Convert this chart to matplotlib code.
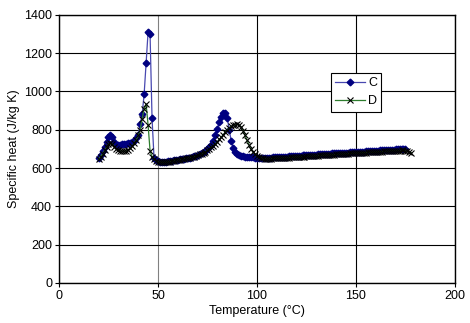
import numpy as np
import matplotlib.pyplot as plt

plt.rcParams['font.family'] = ['Liberation Sans', 'DejaVu Sans']

# temperature (°C) and specific heat (J/kg K)
temp_c = list(range(20, 176))
cp_c = [650, 668, 690, 712, 738, 760, 772, 760, 735, 722,
        720, 722, 725, 728, 728, 730, 732, 735, 742, 755,
        770, 830, 880, 985, 1150, 1310, 1300, 860, 655, 642,
        636, 633, 632, 632, 633, 635, 636, 638, 640, 641,
        643, 645, 647, 649, 651, 653, 655, 658, 661, 664,
        668, 672, 677, 683, 690, 698, 708, 722, 742, 770,
        805, 840, 868, 885, 888, 860, 800, 740, 705, 685,
        672, 666, 663, 661, 660, 659, 658, 657, 656, 655,
        654, 652, 652, 653, 653, 654, 655, 655, 656, 656,
        657, 658, 658, 659, 660, 660, 661, 662, 662, 663,
        664, 664, 665, 666, 666, 667, 668, 668, 669, 670,
        670, 671, 672, 672, 673, 674, 674, 675, 676, 676,
        677, 678, 678, 679, 680, 680, 681, 682, 682, 683,
        684, 684, 685, 686, 686, 687, 688, 688, 689, 690,
        690, 691, 692, 692, 693, 694, 694, 695, 696, 696,
        697, 698, 698, 699, 700, 700]

temp_d = list(range(20, 179))
cp_d = [645, 660, 675, 692, 710, 725, 732, 725, 712, 700,
        693, 690, 688, 688, 690, 695, 703, 715, 730, 748,
        770, 800, 855, 910, 935, 825, 690, 660, 645, 637,
        633, 631, 630, 630, 631, 632, 634, 636, 638, 640,
        642, 644, 646, 648, 650, 652, 654, 657, 660, 663,
        667, 671, 675, 680, 686, 693, 700, 708, 717, 727,
        738, 750, 762, 775, 788, 800, 810, 818, 823, 826,
        828, 826, 815, 795, 770, 745, 720, 700, 685, 672,
        663, 657, 653, 650, 648, 648, 649, 649, 650, 650,
        651, 652, 652, 653, 654, 654, 655, 656, 656, 657,
        658, 658, 659, 660, 660, 661, 662, 662, 663, 664,
        664, 665, 666, 666, 667, 668, 668, 669, 670, 670,
        671, 672, 672, 673, 674, 674, 675, 676, 676, 677,
        678, 678, 679, 680, 680, 681, 682, 682, 683, 684,
        684, 685, 686, 686, 687, 688, 688, 689, 690, 690,
        690, 691, 691, 692, 692, 690, 687, 684, 680]

fig = plt.figure(figsize=(4.7, 3.23), dpi=100)
ax = fig.add_axes([0.1255, 0.124, 0.8425, 0.83])

ax.plot(temp_c, cp_c, '-D', color='#4848b0', lw=0.9, ms=3.4,
        mfc='#000080', mec='#000080', label='C')
ax.plot(temp_d, cp_d, '-x', color='#2e7d2e', lw=0.9, ms=4.5,
        mec='black', mew=0.8, label='D')

ax.set_xlim(0, 200)
ax.set_ylim(0, 1400)
ax.set_xticks([0, 50, 100, 150, 200])
ax.set_yticks(range(0, 1401, 200))
ax.grid(True, color='black', lw=0.8)
ax.set_axisbelow(True)
for gl, v in zip(ax.get_xgridlines(), ax.get_xticks()):
    if v == 50:
        gl.set_color('#808080')
for s in ax.spines.values():
    s.set_color('black')
    s.set_linewidth(1.0)
ax.tick_params(labelsize=9, length=3, width=0.8, pad=2)

ax.set_xlabel('Temperature (°C)', fontsize=9, labelpad=2)
ax.set_ylabel('Specific heat (J/kg K)', fontsize=9, labelpad=3)

leg = ax.legend(loc='upper left', bbox_to_anchor=(0.687, 0.784), fontsize=9,
                fancybox=False, framealpha=1, edgecolor='black',
                handlelength=2.4, borderpad=0.35, labelspacing=0.5,
                handletextpad=0.2, borderaxespad=0)
leg.get_frame().set_linewidth(0.8)

fig.savefig('out.png', dpi=100)
